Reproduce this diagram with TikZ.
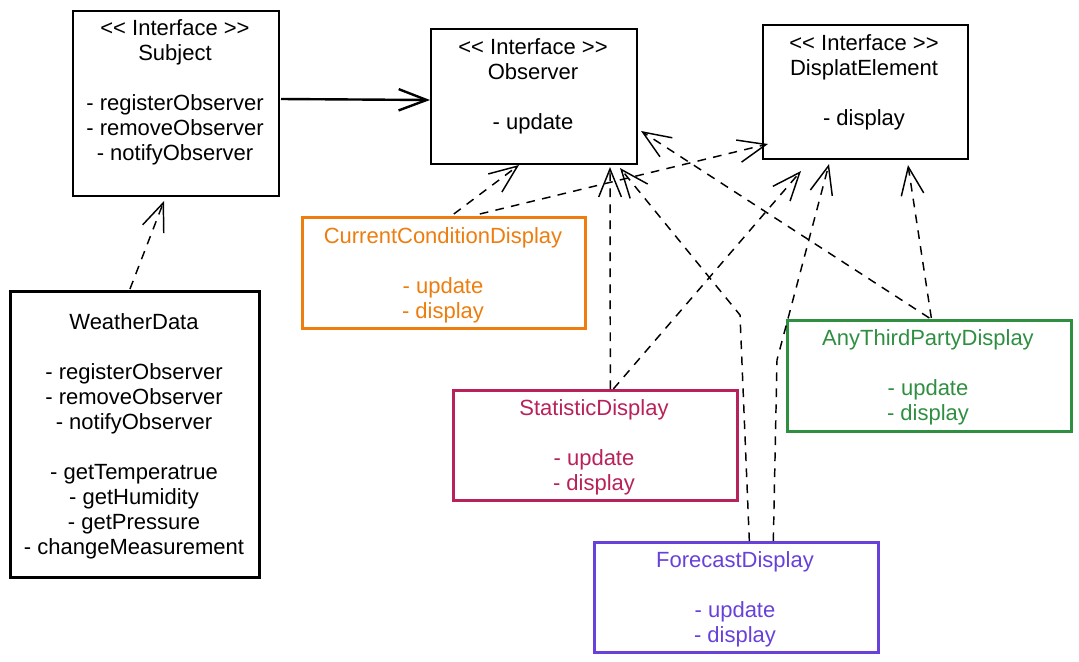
\documentclass[tikz,border=0pt]{standalone}
\usepackage{fontspec}
\setmainfont{Liberation Sans}
\usetikzlibrary{arrows.meta,calc}
\definecolor{cOrange}{HTML}{EC7D0E}
\definecolor{cPink}{HTML}{B8215A}
\definecolor{cGreen}{HTML}{2F8F41}
\definecolor{cViolet}{HTML}{6741D9}
\newcommand{\llt}{<\kern0pt<}
\newcommand{\ggt}{>\kern0pt>}
\begin{document}
\begin{tikzpicture}[x=0.75pt,y=-0.75pt,
  box/.style={draw, line width=1.5pt, inner sep=0, anchor=north west},
  txt/.style={align=center, inner sep=0, anchor=north, font=\fontsize{16.5}{18.75}\selectfont},
  dep/.style={line width=1.1pt, dash pattern=on 6.5pt off 5.5pt, -{Straight Barb[length=21pt,width=17pt]}},
  assoc/.style={line width=1.8pt, -{Straight Barb[length=21pt,width=16pt]}}
]
\useasboundingbox (0,0) rectangle (1079,661);

% boxes
\node[box, minimum width=206*0.75pt, minimum height=185*0.75pt] (subj) at (72,10) {};
\node[box, minimum width=206*0.75pt, minimum height=135*0.75pt] (obs) at (430,28) {};
\node[box, minimum width=205*0.75pt, minimum height=134*0.75pt] (disp) at (762,24) {};
\node[box, draw=cOrange, line width=2pt, minimum width=283*0.75pt, minimum height=111*0.75pt] (ccd) at (301,216) {};
\node[box, line width=2.2pt, minimum width=249*0.75pt, minimum height=286*0.75pt] (wd) at (9,290) {};
\node[box, draw=cPink, line width=2pt, minimum width=284*0.75pt, minimum height=110*0.75pt] (stat) at (452,389) {};
\node[box, draw=cGreen, line width=2pt, minimum width=284*0.75pt, minimum height=111*0.75pt] (any) at (786,319) {};
\node[box, draw=cViolet, line width=2pt, minimum width=284*0.75pt, minimum height=110*0.75pt] (fore) at (593,541) {};

% texts
\node[txt] (subjT) at (175,18) {\strut\llt{} Interface \ggt\\Subject\\\strut\\- registerObserver\\- removeObserver\\- notifyObserver};
\node[txt] (obsT) at (533,37) {\strut\llt{} Interface \ggt\\Observer\\\strut\\- update};
\node[txt] (dispT) at (864,33) {\strut\llt{} Interface \ggt\\DisplatElement\\\strut\\- display};
\node[txt, text=cOrange] (ccdT) at (443,226) {\strut CurrentConditionDisplay\\\strut\\- update\\- display};
\node[txt] (wdT) at (134,312) {\strut WeatherData\\\strut\\- registerObserver\\- removeObserver\\- notifyObserver\\\strut\\- getTemperatrue\\- getHumidity\\- getPressure\\- changeMeasurement};
\node[txt, text=cPink] (statT) at (594,398) {\strut StatisticDisplay\\\strut\\- update\\- display};
\node[txt, text=cGreen] (anyT) at (928,328) {\strut AnyThirdPartyDisplay\\\strut\\- update\\- display};
\node[txt, text=cViolet] (foreT) at (735,550) {\strut ForecastDisplay\\\strut\\- update\\- display};

% bend points
\coordinate (fbendA) at (740,315);
\coordinate (fbendB) at (777,360);

% connectors
\draw[assoc] ($(subj.east)+(1,-4.5)$) -- ($(obs.west)+(0,3.5)$);
\draw[dep] ($(wd.north)+(-5,-1)$) -- ($(subj.south)+(-12,4)$);
\draw[dep] ($(ccd.north)+(10,-2)$) -- ($(obs.south)+(-15,0)$);
\draw[dep] ($(ccd.north)+(36,-2)$) -- ($(disp.south west)+(6,-16)$);
\draw[dep] ($(stat.north)+(15,0)$) -- ($(obs.south)+(76,2)$);
\draw[dep] ($(stat.north)+(18,0)$) -- ($(disp.south)+(-64.5,11)$);
\draw[dep] ($(fore.north)+(13,0)$) -- (fbendA) -- ($(obs.south)+(86,3)$);
\draw[dep] ($(fore.north)+(37,0)$) -- (fbendB) -- ($(disp.south)+(-36.5,4)$);
\draw[dep] ($(any.north)+(0,-1)$) -- ($(obs.east)+(3,34.5)$);
\draw[dep] ($(any.north)+(2,-1)$) -- ($(disp.south)+(42.5,5)$);
\end{tikzpicture}
\end{document}
